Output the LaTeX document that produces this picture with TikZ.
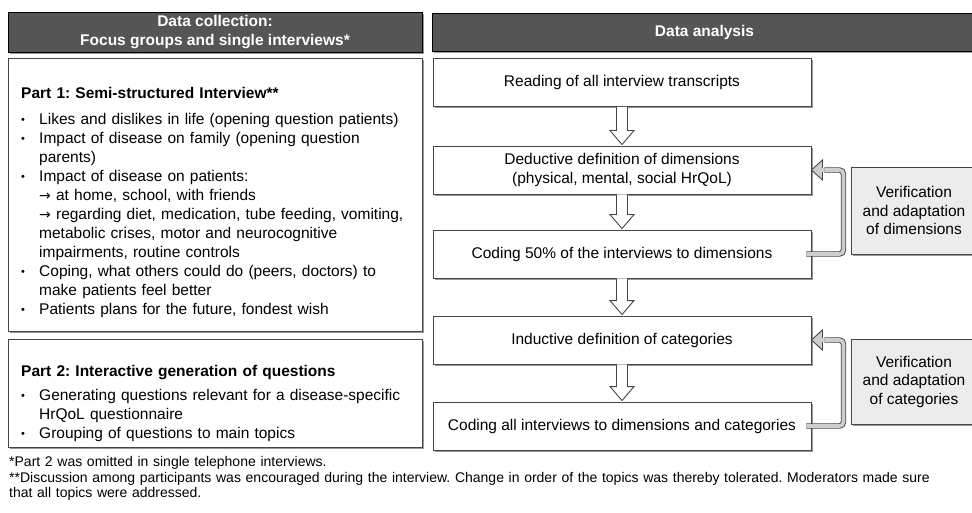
\documentclass[tikz,border=0pt]{standalone}
\usepackage{fontspec}
\setmainfont{Liberation Sans}
\newfontfamily\notefont{Liberation Sans}
\newfontfamily\arrowfont{DejaVu Sans}
\usetikzlibrary{calc,shadows}

\definecolor{headgray}{RGB}{85,85,85}
\definecolor{linegray}{RGB}{70,70,70}
\definecolor{boxgray}{RGB}{236,236,236}
\definecolor{loopgray}{RGB}{205,205,205}

% one bullet line of the interview guide
\newcommand{\bitem}[1]{\par\hangindent=19pt\hangafter=1\noindent
  \makebox[19pt][l]{\hspace{1pt}\raisebox{1pt}{\fontsize{11}{11}\selectfont\textbullet}}#1}
\newcommand{\goto}{{\arrowfont\fontsize{14}{14}\selectfont →}}

% hollow block arrow from one step to the next
\newcommand{\flowstep}[2]{%
  \path let \p1=(#1.south), \p2=(#2.north) in
    [draw=linegray, fill=white, line width=0.9pt, line join=miter]
    (\x1-5.5pt,\y1) -- (\x1-5.5pt,\y2+15pt) -- (\x1-12pt,\y2+15pt) -- (\x1,\y2+1pt)
    -- (\x1+12pt,\y2+15pt) -- (\x1+5.5pt,\y2+15pt) -- (\x1+5.5pt,\y1);
}

% grey feedback arrow from a coding step back to a definition step
\newcommand{\loopback}[2]{%
  \draw[loopline] ($(#1.east)+(-5,0)$) -- ++(37,0) |- ($(#2.east)+(13,0)$);
  \draw[loophead] (#2.east) -- ++(11,-10) -- ++(0,20) -- cycle;
  \fill[loopgray] ($(#2.east)+(10,-1.8)$) rectangle ++(2.6,3.6);
}

\begin{document}
\frenchspacing
\begin{tikzpicture}
[x=1pt,y=-1pt,
 boxshadow/.style={drop shadow={shadow xshift=2pt,shadow yshift=-2pt,opacity=0.4,fill=black}},
 headbox/.style={shape=rectangle,draw=black,fill=headgray,text=white,align=center,
   font=\fontsize{15.5}{19}\selectfont\bfseries,minimum height=38pt,boxshadow},
 stepbox/.style={shape=rectangle,draw=linegray,line width=0.9pt,fill=white,align=center,
   font=\fontsize{15.5}{19}\selectfont,minimum width=378pt,minimum height=48pt,boxshadow},
 checkbox/.style={shape=rectangle,draw=linegray,line width=0.9pt,fill=boxgray,align=center,
   font=\fontsize{15.5}{18.5}\selectfont,minimum width=126pt,boxshadow},
 listbox/.style={shape=rectangle,draw=linegray,line width=0.9pt,fill=white,
   minimum width=414pt,boxshadow},
 listtext/.style={anchor=base west,inner sep=0pt,text width=400pt,align=left,
   font=\fontsize{15.5}{19}\selectfont},
 notetext/.style={anchor=base west,inner sep=0pt,text width=960pt,align=left,
   font=\notefont\fontsize{14}{15.5}\selectfont},
 loopline/.style={draw=linegray,line width=0.9pt,double=loopgray,double distance=3.6pt,
   rounded corners=4pt},
 loophead/.style={draw=linegray,line width=0.9pt,fill=loopgray,line join=miter}]
\path[use as bounding box,fill=white] (0,0) rectangle (972,513);

%% headers
\node (collect) at (215,32) [headbox,minimum width=414pt]
  {Data collection:\\Focus groups and single interviews*};
\node (analysis) at (704.5,32) [headbox,minimum width=545pt] {Data analysis};

%% left column: interview guide
\node (part1) at (215,194.5) [listbox,minimum height=273pt] {};
\node (part2) at (215,393) [listbox,minimum height=108pt] {};
\node (part1text) at (20,98.5) [listtext] {%
  {\bfseries\hspace{1pt}Part 1: Semi-structured Interview**}\par\vspace{7pt}
  \bitem{Likes and dislikes in life (opening question patients)}
  \bitem{Impact of disease on family (opening question\newline parents)}
  \bitem{Impact of disease on patients:\newline \goto{} at home, school, with friends\newline
    \goto{} regarding diet, medication, tube feeding, vomiting,\newline
    metabolic crises, motor and neurocognitive\newline impairments, routine controls}
  \bitem{Coping, what others could do (peers, doctors) to\newline make patients feel better}
  \bitem{Patients plans for the future, fondest wish}};
\node (part2text) at (20,376.5) [listtext] {%
  {\bfseries\hspace{1pt}Part 2: Interactive generation of questions}\par\vspace{5pt}
  \bitem{Generating questions relevant for a disease-specific\newline HrQoL questionnaire}
  \bitem{Grouping of questions to main topics}};

%% right column: analysis steps
\foreach \nodename/\y/\txt in {read/82.5/{Reading of all interview transcripts},
 deduct/170/{Deductive definition of dimensions\\(physical, mental, social HrQoL)},
 code50/254/{Coding 50\% of the interviews to dimensions},
 induct/340/{Inductive definition of categories},
 codeall/426/{Coding all interviews to dimensions and categories}}
{
  \node (\nodename) at (622,\y) [stepbox] {\txt};
}
\node (verdim) at (914,210.5) [checkbox,minimum height=87pt]
  {Verification\\and adaptation\\of dimensions};
\node (vercat) at (914,381.5) [checkbox,minimum height=85pt]
  {Verification\\and adaptation\\of categories};

%% arrows
\foreach \startnode/\endnode in {read/deduct, deduct/code50, code50/induct, induct/codeall}
{
  \flowstep{\startnode}{\endnode}
}
\loopback{code50}{deduct}
\loopback{codeall}{induct}

%% footnotes
\node (notes) at (9,466.5) [notetext] {*Part 2 was omitted in single telephone interviews.\newline
  **Discussion among participants was encouraged during the interview. Change in order of the topics was thereby tolerated. Moderators made sure\newline
  that all topics were addressed.};
\end{tikzpicture}
\end{document}
